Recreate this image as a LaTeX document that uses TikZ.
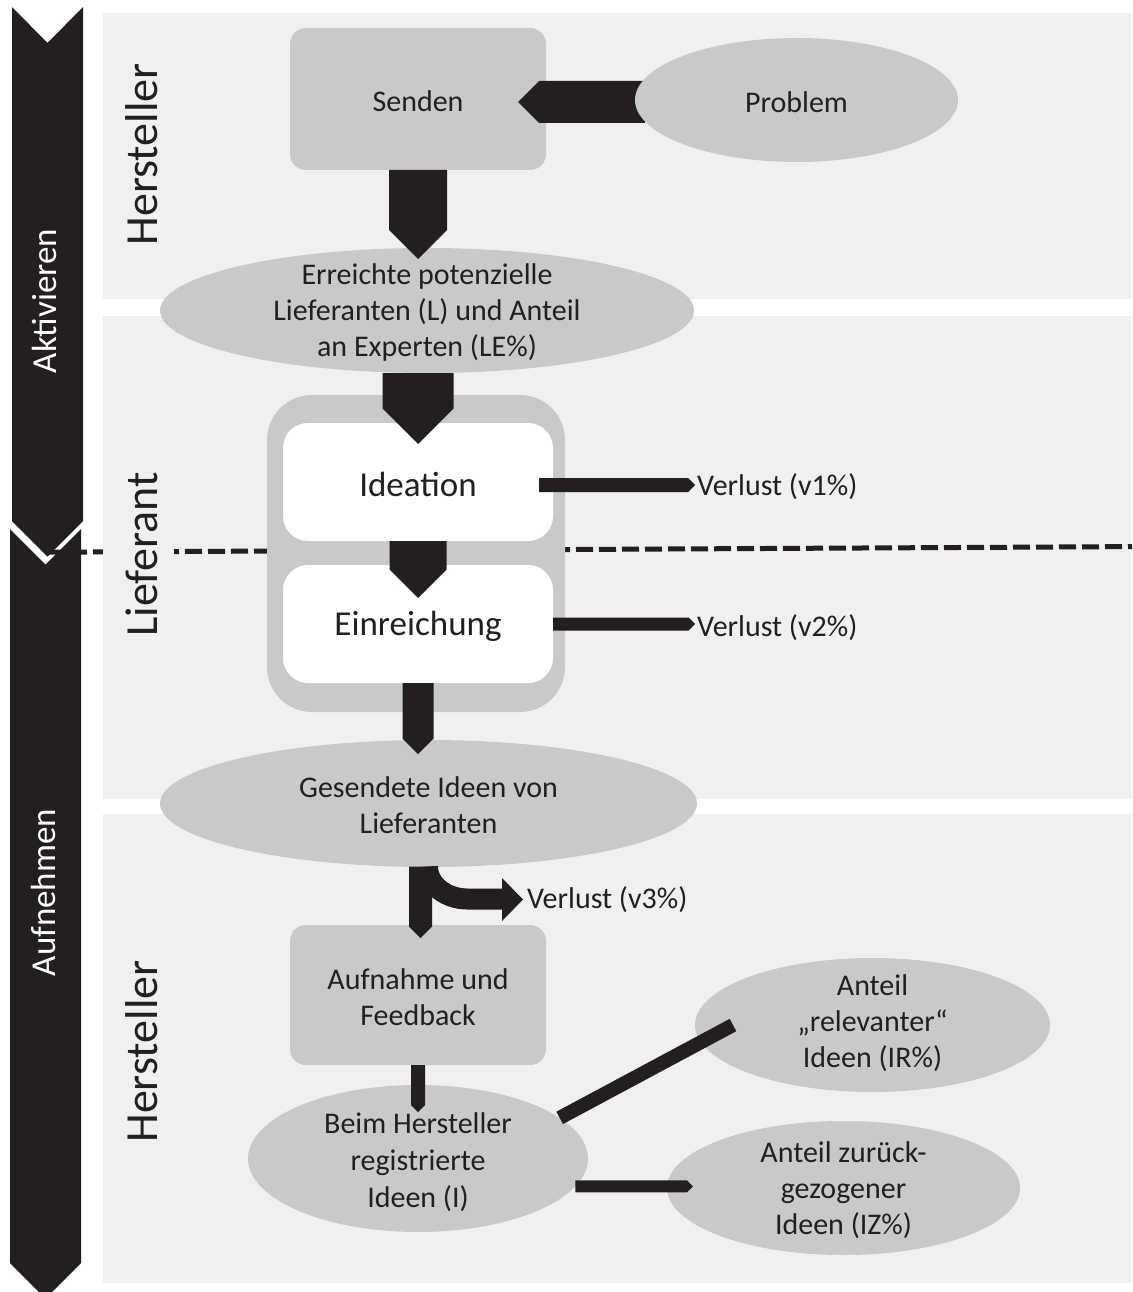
\documentclass[tikz,border=0pt]{standalone}
\usepackage{fontspec}
\setmainfont{Carlito}
\usetikzlibrary{shapes.geometric,calc}
\definecolor{ink}{HTML}{231F20}
\definecolor{panel}{HTML}{F0F0F0}
\definecolor{boxgray}{HTML}{C8C9CB}
\pgfdeclarelayer{bg}
\pgfsetlayers{bg,main}

% block arrows: #1 start point, #2 tip point, #3 half width (head length = half width)
\newcommand\blkdown[3]{\fill[ink] let \p1=#1, \p2=#2 in
  (\x1-#3,\y1) -- (\x1+#3,\y1) -- (\x1+#3,\y2+#3) -- (\x1,\y2) -- (\x1-#3,\y2+#3) -- cycle;}
\newcommand\blkright[3]{\fill[ink] let \p1=#1, \p2=#2 in
  (\x1,\y1+#3) -- (\x2-#3,\y1+#3) -- (\x2,\y1) -- (\x2-#3,\y1-#3) -- (\x1,\y1-#3) -- cycle;}
\newcommand\blkleft[3]{\fill[ink] let \p1=#1, \p2=#2 in
  (\x1,\y1+#3) -- (\x2+#3,\y1+#3) -- (\x2,\y1) -- (\x2+#3,\y1-#3) -- (\x1,\y1-#3) -- cycle;}

\tikzset{
  gbox/.style={fill=boxgray, rounded corners=16pt, inner sep=0, outer sep=0},
  wbox/.style={fill=white, rounded corners=25pt, inner sep=0, outer sep=0,
               minimum width=270pt, minimum height=118pt},
  gell/.style={ellipse, fill=boxgray, inner sep=0, outer sep=0},
  txt/.style={font=\fontsize{30}{36}\selectfont, text=ink, align=center, inner sep=0, yshift=-2pt},
  losstxt/.style={font=\fontsize{30}{36}\selectfont, text=ink, inner sep=0, anchor=west},
  bigtxt/.style={font=\fontsize{35}{42}\selectfont, text=ink, inner sep=0, yshift=-2.5pt},
  lane/.style={rotate=90, font=\fontsize{46}{46}\selectfont, text=ink, inner sep=0},
  phase/.style={rotate=90, font=\fontsize{35}{35}\selectfont, text=white, inner sep=0},
}

\begin{document}
\begin{tikzpicture}[x=1pt, y=-1pt]
\useasboundingbox (0,0) rectangle (1132,1292);

\begin{pgfonlayer}{bg}
  \fill[white] (0,0) rectangle (1132,1292);
  % swimlane panels
  \fill[panel] (103,13) rectangle (1132,299);
  \fill[panel] (103,316) rectangle (1132,799);
  \fill[panel] (103,814) rectangle (1132,1283);
  % phase chevrons
  \fill[ink] (12,7) -- (47.5,43) -- (83,7) -- (83,521) -- (47.5,556.5) -- (12,521) -- cycle;
  \fill[ink] (10,529) -- (45.5,564.5) -- (81,529) -- (81,1263) -- (45.5,1298.5) -- (10,1263) -- cycle;
  \node[phase] (akt) at (44,301) {Aktivieren};
  \node[phase] (auf) at (43.5,892.5) {Aufnehmen};
  % boundary between the phases
  \draw[ink, line width=5pt, dash pattern=on 17pt off 6pt] (47,552.2) -- (1132,546.6);
  \fill[panel] (103,538) rectangle (174,562);
  % lane labels
  \node[lane] (lh1) at (142,154.5) {Hersteller};
  \node[lane] (lli) at (142,554.5) {Lieferant};
  \node[lane] (lh2) at (142,1051.5) {Hersteller};
\end{pgfonlayer}

% sending stage
\node[gbox, minimum width=256pt, minimum height=142pt] (senden) at (418,99) {};
\blkleft{($(senden.east)+(99,3)$)}{($(senden.east)+(-28,3)$)}{21pt}
\node[gell, minimum width=323pt, minimum height=124pt] (problem) at (796.5,100) {};
\node[gell, minimum width=534pt, minimum height=125pt] (erreicht) at (427,310.5) {};

% supplier stage
\node[fill=boxgray, rounded corners=45pt, inner sep=0, outer sep=0,
      minimum width=298pt, minimum height=317pt] (cont) at (416,553.5) {};
\node[wbox] (ideation) at (418,482) {};
\node[wbox] (einreich) at (418,624) {};
\node[gell, minimum width=537pt, minimum height=127pt] (gesendet) at (428.5,803.5) {};

% receiving stage
\node[gbox, minimum width=256pt, minimum height=140pt] (aufnahme) at (418,995) {};
\node[gell, minimum width=340pt, minimum height=147pt] (beim) at (418,1158.5) {};
\node[gell, minimum width=355pt, minimum height=134pt] (relevant) at (872.5,1025) {};
\node[gell, minimum width=353pt, minimum height=134pt] (zurueck) at (843.5,1188) {};

% loss labels
\node[losstxt] (v1) at (697,487) {Verlust (v1\%)};
\node[losstxt] (v2) at (697,628) {Verlust (v2\%)};
\node[losstxt] (v3) at (527,900) {Verlust (v3\%)};

% connectors
\blkdown{(senden.south)}{($(erreicht.north)+(0,11)$)}{29pt}
\blkdown{(ideation.north |- erreicht.south)}{($(ideation.north)+(0,21)$)}{35.5pt}
\blkdown{(ideation.south)}{($(einreich.north)+(0,33)$)}{28.5pt}
\blkdown{(einreich.south)}{($(gesendet.north)+(0,14)$)}{15.5pt}
\blkdown{($(aufnahme.north |- gesendet.south)+(2.5,-0.5)$)}{($(aufnahme.north)+(0,13)$)}{11.5pt}
\draw[ink, line width=21pt] ($(gesendet.south)+(-1,-0.5)$)
  .. controls ++(0,18) and ++(-22.1,0) .. ++(40,32.5) -- ++(36,0);
\fill[ink] ($(v3.west)+(-25,-22)$) -- ($(v3.west)+(-4,-0.5)$) -- ($(v3.west)+(-25,21)$) -- cycle;
\blkdown{(aufnahme.south)}{($(beim.north)+(0,27)$)}{7pt}
\blkright{($(ideation.east)+(-14,3)$)}{($(v1.west)+(-2,0)$)}{7pt}
\blkright{(einreich.east)}{($(v2.west)+(-2,0)$)}{6.5pt}
\blkright{(beim.-10)}{($(zurueck.west)+(26,0)$)}{6pt}
\coordinate (relend) at ($(relevant.west)+(38,0)$);
\draw[ink, line width=14pt] (beim.16) -- (relend);

% texts
\node[txt] at (senden) {Senden};
\node[txt] at (problem) {Problem};
\node[txt] at (erreicht) {Erreichte potenzielle\\Lieferanten (L) und Anteil\\an Experten (LE\%)};
\node[bigtxt] at (ideation) {Ideation};
\node[bigtxt] at (einreich) {Einreichung};
\node[txt] at (gesendet) {Gesendete Ideen von\\Lieferanten};
\node[txt] at (aufnahme) {Aufnahme und\\Feedback};
\node[txt, font=\fontsize{30}{37}\selectfont] at ($(beim)+(0,2)$) {Beim Hersteller\\registrierte\\Ideen (I)};
\node[txt] at ($(relevant)+(0,-4)$) {Anteil\\„relevanter“\\Ideen (IR\%)};
\node[txt] at (zurueck) {Anteil zurück-\\gezogener\\Ideen (IZ\%)};
\end{tikzpicture}
\end{document}
